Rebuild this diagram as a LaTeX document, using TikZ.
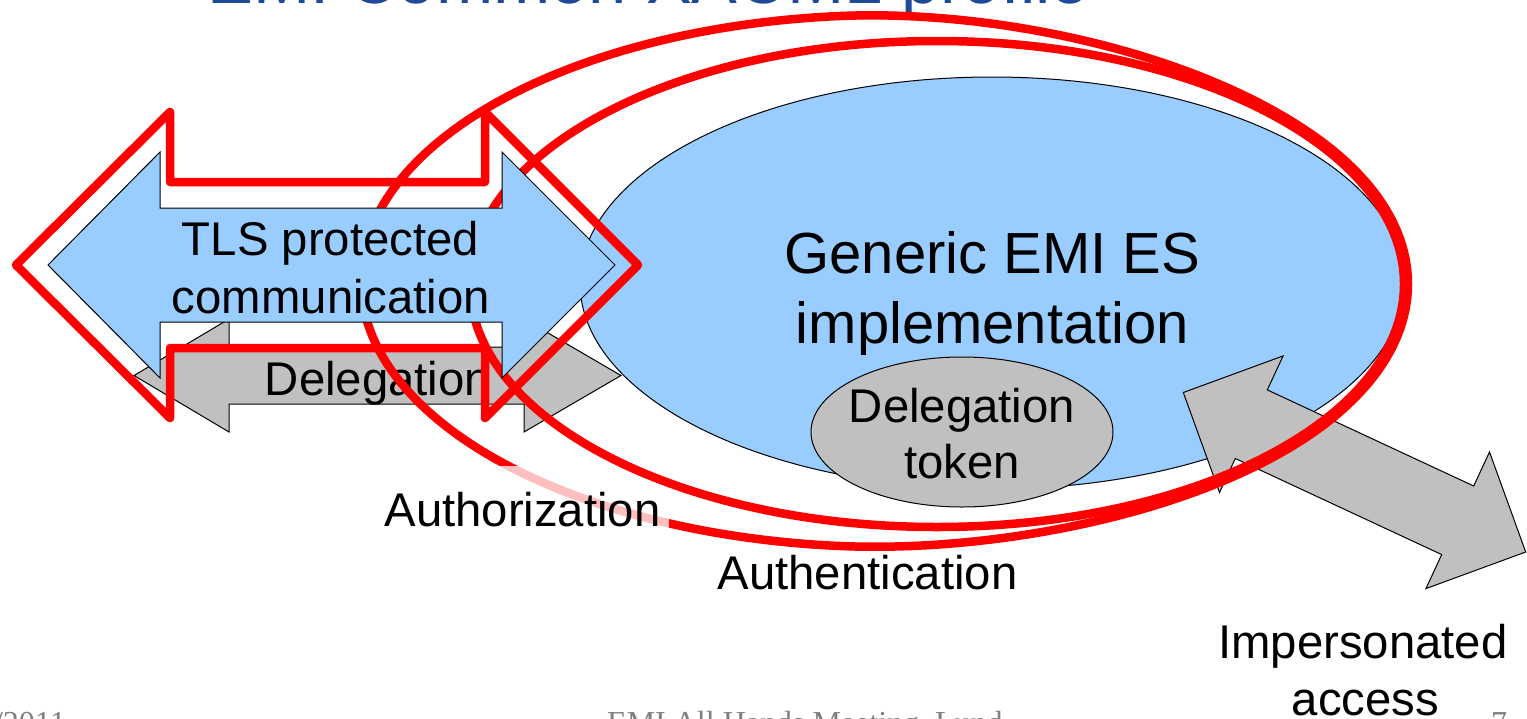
\documentclass[tikz,border=0pt]{standalone}
\usepackage{fontspec}
\setmainfont{Liberation Sans}
\newfontfamily\footfont{Liberation Serif}
\usetikzlibrary{shapes.geometric}
\definecolor{esblue}{HTML}{99CCFF}
\definecolor{tokgray}{HTML}{C0C0C0}
\definecolor{hred}{HTML}{FF0000}
\definecolor{titleblue}{RGB}{31,73,153}
\definecolor{footgray}{RGB}{128,128,128}
\tikzset{
  thinb/.style={draw=black, line width=1pt, line join=miter},
  redline/.style={draw=hred, line width=8.5pt, line join=round, line cap=round},
  redell/.style={ellipse, draw=hred, line width=8.5pt, inner sep=0pt},
  lbl/.style={inner sep=0pt, font=\fontsize{47.3pt}{57pt}\selectfont},
  biglbl/.style={inner sep=0pt, font=\fontsize{58pt}{70pt}\selectfont},
  foot/.style={inner sep=0pt, text=footgray, font=\footfont\fontsize{32pt}{38pt}\selectfont},
  declare function={
    uu(\a)=min(1,max(0,(abs(\a)-35)/60));
    gg(\a)=uu(\a)*uu(\a)*(3-2*uu(\a));
  },
}
\begin{document}
\begin{tikzpicture}[x=1pt,y=-1pt]
\useasboundingbox (0,0) rectangle (1527,718);
\clip (0,0) rectangle (1527,718);
\fill[white] (0,0) rectangle (1527,718);

% title (cut at top)
\node[inner sep=0pt, anchor=base west, text=titleblue, font=\fontsize{68.7pt}{80pt}\selectfont] (title) at (207,3) {EMI Common XACML profile};

% generic EMI ES implementation
\node[ellipse, thinb, fill=esblue, minimum width=824pt, minimum height=412pt, inner sep=0pt] (es) at (992,283) {};
\node[biglbl, anchor=base] (es1) at (992.5,273) {Generic EMI ES};
\node[biglbl, anchor=base] (es2) at (992.5,343) {implementation};

% delegation token
\node[ellipse, thinb, fill=tokgray, minimum width=302pt, minimum height=150pt, inner sep=0pt] (tok) at (962,432) {};
\node[lbl, anchor=base] (tok1) at (962,422) {Delegation};
\node[lbl, anchor=base] (tok2) at (962,478) {token};

% delegation arrow
\draw[thinb, fill=tokgray] (134,375.5) -- (229,319) -- (229,347) -- (524,347) -- (524,319)
  -- (621,375.5) -- (524,432) -- (524,404) -- (229,404) -- (229,432) -- cycle;
\node[lbl, anchor=base] (deleg) at (378,395) {Delegation};

% impersonated access arrow
\draw[thinb, fill=tokgray] (1183.3,392.5) -- (1283.1,355.9) -- (1267.3,389.9) -- (1473.7,486)
  -- (1489.5,452) -- (1525.7,552) -- (1425.9,588.6) -- (1441.7,554.6) -- (1235.3,458.5)
  -- (1219.5,492.5) -- cycle;

% authorization outline
\draw[redline] plot[domain=-180:180, samples=241, variable=\t]
  ({937+471*cos(\t)+gg(\t)*(-52+53*cos(\t))}, {284-247*sin(\t)+gg(\t)*(-3-19*sin(\t))}) -- cycle;
\node[lbl, anchor=base, fill=white, fill opacity=0.75, text opacity=1, text height=46pt, text depth=12pt, inner xsep=8pt, inner ysep=14pt] (authzlbl) at (522.5,526) {Authorization};

% authentication ellipse
\node[redell, minimum width=934pt, minimum height=486pt] (authn) at (937,284) {};

% TLS protected communication arrow
\draw[thinb, fill=esblue] (48,265) -- (160,152) -- (160,208) -- (502,208) -- (502,152)
  -- (615,265) -- (502,378) -- (502,322) -- (160,322) -- (160,378) -- cycle;
\node[lbl, anchor=base] (tls1) at (330.5,255) {TLS protected};
\node[lbl, anchor=base] (tls2) at (331,313) {communication};

% red TLS outline
\draw[redline] (16,265) -- (170,112) -- (170,182) -- (485,182) -- (485,112)
  -- (638,265) -- (485,418) -- (485,348) -- (170,348) -- (170,418) -- cycle;

% labels
\node[lbl, anchor=base] (authnlbl) at (867.5,589) {Authentication};
\node[lbl, anchor=base] (imp1) at (1363,658) {Impersonated};
\node[lbl, anchor=base] (imp2) at (1365.5,715) {access};

% footer (cut at bottom)
\node[foot, anchor=base east] (fdate) at (66,733) {/2011};
\node[foot, anchor=base west] (fmid) at (607,733) {EMI All Hands Meeting, Lund};
\node[foot, anchor=base] (fpage) at (1499,733) {7};
\end{tikzpicture}
\end{document}
